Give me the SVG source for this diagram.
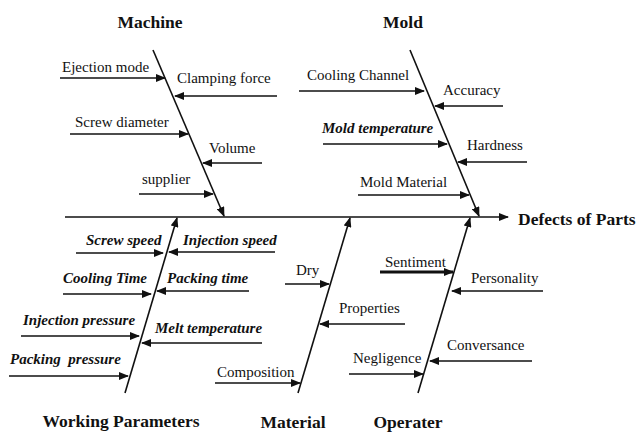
<svg xmlns="http://www.w3.org/2000/svg" width="640" height="434" viewBox="0 0 640 434">
<defs>
<marker id="ah" markerWidth="10" markerHeight="8" refX="9" refY="4" orient="auto" markerUnits="userSpaceOnUse">
<path d="M0,0 L10,4 L0,8 Z" fill="#111"/>
</marker>
</defs>
<rect width="640" height="434" fill="#fff"/>
<g id="connectors" stroke="#111" stroke-width="1.5" fill="none">
<line stroke-width="1.6" x1="65" y1="217" x2="508" y2="217" marker-end="url(#ah)"/>
<line stroke-width="1.6" x1="153" y1="50" x2="224" y2="216" marker-end="url(#ah)"/>
<line stroke-width="1.6" x1="410" y1="50" x2="479" y2="216" marker-end="url(#ah)"/>
<line stroke-width="1.6" x1="125" y1="393" x2="177" y2="218" marker-end="url(#ah)"/>
<line stroke-width="1.6" x1="298" y1="393" x2="350" y2="218" marker-end="url(#ah)"/>
<line stroke-width="1.6" x1="418" y1="393" x2="470" y2="218" marker-end="url(#ah)"/>
<line x1="60" y1="78" x2="165" y2="78" marker-end="url(#ah)"/>
<line x1="277" y1="96" x2="175" y2="96" marker-end="url(#ah)"/>
<line x1="70" y1="134" x2="188" y2="134" marker-end="url(#ah)"/>
<line x1="262" y1="163" x2="203" y2="163" marker-end="url(#ah)"/>
<line x1="139" y1="194" x2="213" y2="194" marker-end="url(#ah)"/>
<line x1="299" y1="91" x2="424" y2="91" marker-end="url(#ah)"/>
<line x1="503" y1="106" x2="435" y2="106" marker-end="url(#ah)"/>
<line x1="323" y1="144" x2="447" y2="144" marker-end="url(#ah)"/>
<line x1="527" y1="162" x2="458" y2="162" marker-end="url(#ah)"/>
<line x1="358" y1="195" x2="469" y2="195" marker-end="url(#ah)"/>
<line x1="76" y1="253" x2="163" y2="253" marker-end="url(#ah)"/>
<line x1="275" y1="252" x2="169" y2="252" marker-end="url(#ah)"/>
<line x1="63" y1="294" x2="151" y2="294" marker-end="url(#ah)"/>
<line x1="249" y1="291" x2="157" y2="291" marker-end="url(#ah)"/>
<line x1="21" y1="336" x2="139" y2="336" marker-end="url(#ah)"/>
<line x1="262" y1="343" x2="142" y2="343" marker-end="url(#ah)"/>
<line x1="9" y1="376" x2="128" y2="376" marker-end="url(#ah)"/>
<line x1="285" y1="284" x2="329" y2="284" marker-end="url(#ah)"/>
<line x1="405" y1="324" x2="320" y2="324" marker-end="url(#ah)"/>
<line x1="215" y1="383" x2="300" y2="383" marker-end="url(#ah)"/>
<line x1="380" y1="272" x2="453" y2="272" stroke-width="3" marker-end="url(#ah)"/>
<line x1="543" y1="291" x2="452" y2="291" marker-end="url(#ah)"/>
<line x1="532" y1="361" x2="430" y2="361" marker-end="url(#ah)"/>
<line x1="349" y1="374" x2="423" y2="374" marker-end="url(#ah)"/>
</g>
<g id="effect"><text font-family="'Liberation Serif', serif" font-size="17.5" font-weight="bold" fill="#111" x="518" y="225">Defects of Parts</text></g>
<g id="machine" fill="#111">
<text font-family="'Liberation Serif', serif" font-size="17.5" font-weight="bold" x="150" y="28" text-anchor="middle">Machine</text>
<text font-family="'Liberation Serif', serif" font-size="15" x="62" y="72">Ejection mode</text>
<text font-family="'Liberation Serif', serif" font-size="15" x="177" y="83">Clamping force</text>
<text font-family="'Liberation Serif', serif" font-size="15" x="75" y="127">Screw diameter</text>
<text font-family="'Liberation Serif', serif" font-size="15" x="209" y="153">Volume</text>
<text font-family="'Liberation Serif', serif" font-size="15" x="142" y="184">supplier</text>
</g>
<g id="mold" fill="#111">
<text font-family="'Liberation Serif', serif" font-size="17.5" font-weight="bold" x="403" y="28" text-anchor="middle">Mold</text>
<text font-family="'Liberation Serif', serif" font-size="15" x="307" y="80">Cooling Channel</text>
<text font-family="'Liberation Serif', serif" font-size="15" x="443" y="95">Accuracy</text>
<text font-family="'Liberation Serif', serif" font-size="15" font-weight="bold" font-style="italic" x="322" y="133">Mold temperature</text>
<text font-family="'Liberation Serif', serif" font-size="15" x="467" y="150">Hardness</text>
<text font-family="'Liberation Serif', serif" font-size="15" x="360" y="187">Mold Material</text>
</g>
<g id="working-parameters" fill="#111">
<text font-family="'Liberation Serif', serif" font-size="17.5" font-weight="bold" x="121" y="427" text-anchor="middle">Working Parameters</text>
<text font-family="'Liberation Serif', serif" font-size="15" font-weight="bold" font-style="italic" x="86" y="245">Screw speed</text>
<text font-family="'Liberation Serif', serif" font-size="15" font-weight="bold" font-style="italic" x="183" y="245">Injection speed</text>
<text font-family="'Liberation Serif', serif" font-size="15" font-weight="bold" font-style="italic" x="63" y="283">Cooling Time</text>
<text font-family="'Liberation Serif', serif" font-size="15" font-weight="bold" font-style="italic" x="167" y="283">Packing time</text>
<text font-family="'Liberation Serif', serif" font-size="15" font-weight="bold" font-style="italic" x="23" y="325">Injection pressure</text>
<text font-family="'Liberation Serif', serif" font-size="15" font-weight="bold" font-style="italic" x="155" y="333">Melt temperature</text>
<text font-family="'Liberation Serif', serif" font-size="15" font-weight="bold" font-style="italic" x="10" y="364" xml:space="preserve">Packing  pressure</text>
</g>
<g id="material" fill="#111">
<text font-family="'Liberation Serif', serif" font-size="17.5" font-weight="bold" x="293" y="428" text-anchor="middle">Material</text>
<text font-family="'Liberation Serif', serif" font-size="15" x="296" y="275">Dry</text>
<text font-family="'Liberation Serif', serif" font-size="15" x="339" y="313">Properties</text>
<text font-family="'Liberation Serif', serif" font-size="15" x="217" y="377">Composition</text>
</g>
<g id="operater" fill="#111">
<text font-family="'Liberation Serif', serif" font-size="17.5" font-weight="bold" x="408" y="428" text-anchor="middle">Operater</text>
<text font-family="'Liberation Serif', serif" font-size="15" x="385" y="267">Sentiment</text>
<text font-family="'Liberation Serif', serif" font-size="15" x="471" y="283">Personality</text>
<text font-family="'Liberation Serif', serif" font-size="15" x="447" y="350">Conversance</text>
<text font-family="'Liberation Serif', serif" font-size="15" x="353" y="363">Negligence</text>
</g>
</svg>
